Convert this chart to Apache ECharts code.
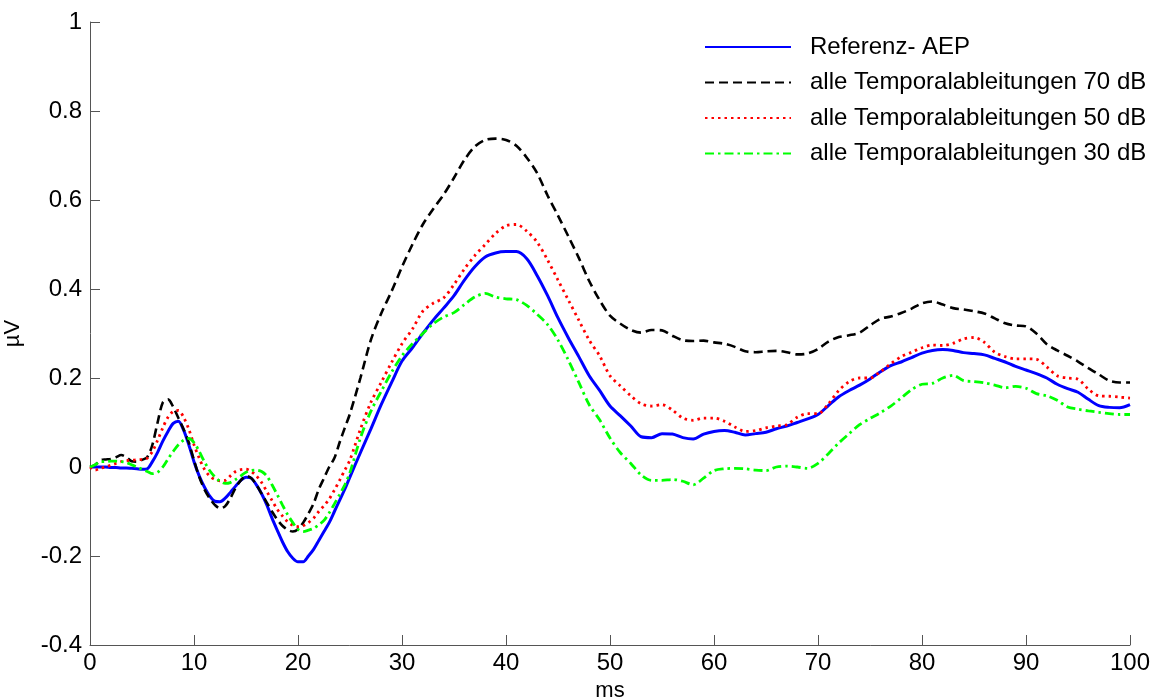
<!DOCTYPE html>
<html>
<head>
<meta charset="utf-8">
<script src="https://cdn.jsdelivr.net/npm/echarts@6/dist/echarts.min.js"></script>
<style>
html,body{margin:0;padding:0;background:#fff;}
#chart{width:1158px;height:698px;}
</style>
</head>
<body>
<div id="chart"></div>
<script>
// time in ms
var timeMs = [
  0,0.5,1,1.5,2,2.5,3,3.5,4,4.5,
  5,5.5,6,6.5,7,7.5,8,8.5,9,9.5,
  10,10.5,11,11.5,12,12.5,13,13.5,14,14.5,
  15,15.5,16,16.5,17,17.5,18,18.5,19,19.5,
  20,20.5,21,21.5,22,22.5,23,23.5,24,24.5,
  25,26,27,28,29,30,31,32,33,34,
  35,36,37,38,39,40,41,42,43,44,
  45,46,47,48,49,50,51,52,53,54,
  55,56,57,58,59,60,61,62,63,64,
  65,66,67,68,69,70,71,72,73,74,
  75,76,77,78,79,80,81,82,83,84,
  85,86,87,88,89,90,91,92,93,94,
  95,96,97,98,99,100
];

var seriesNames = [
  'Referenz- AEP',
  'alle Temporalableitungen 70 dB',
  'alle Temporalableitungen 50 dB',
  'alle Temporalableitungen 30 dB'
];

var refAEP = [
  0,0,0,0,-0.001,-0.001,-0.002,-0.002,-0.003,-0.004,
  -0.005,-0.004,0.012,0.033,0.058,0.08,0.098,0.103,0.083,0.05,
  0.012,-0.02,-0.045,-0.065,-0.077,-0.078,-0.07,-0.057,-0.043,-0.03,
  -0.023,-0.025,-0.04,-0.06,-0.085,-0.115,-0.142,-0.168,-0.19,-0.205,
  -0.213,-0.213,-0.2,-0.185,-0.165,-0.145,-0.125,-0.1,-0.075,-0.05,
  -0.022,0.032,0.085,0.14,0.19,0.238,0.268,0.3,0.33,0.357,
  0.385,0.42,0.45,0.472,0.481,0.484,0.484,0.468,0.43,0.385,
  0.335,0.29,0.248,0.205,0.172,0.137,0.115,0.092,0.068,0.066,
  0.075,0.074,0.066,0.063,0.074,0.08,0.082,0.078,0.072,0.075,
  0.078,0.086,0.092,0.1,0.108,0.118,0.138,0.158,0.172,0.184,
  0.198,0.214,0.228,0.236,0.246,0.256,0.262,0.264,0.262,0.257,
  0.255,0.252,0.244,0.236,0.226,0.218,0.21,0.2,0.186,0.176,
  0.168,0.152,0.138,0.134,0.133,0.14
];

var temporal70 = [
  0,0.005,0.015,0.017,0.018,0.022,0.027,0.022,0.013,0.012,
  0.016,0.022,0.05,0.1,0.145,0.152,0.135,0.11,0.085,0.055,
  0.015,-0.022,-0.05,-0.07,-0.085,-0.093,-0.088,-0.07,-0.047,-0.03,
  -0.02,-0.025,-0.04,-0.06,-0.08,-0.1,-0.118,-0.132,-0.141,-0.145,
  -0.14,-0.125,-0.105,-0.082,-0.05,-0.025,0.0,0.02,0.055,0.088,
  0.12,0.2,0.285,0.345,0.395,0.45,0.5,0.545,0.58,0.612,
  0.65,0.69,0.72,0.735,0.738,0.735,0.722,0.695,0.66,0.61,
  0.565,0.518,0.47,0.418,0.375,0.34,0.322,0.308,0.302,0.308,
  0.307,0.295,0.285,0.283,0.284,0.28,0.277,0.27,0.26,0.258,
  0.26,0.261,0.258,0.253,0.255,0.265,0.282,0.292,0.296,0.302,
  0.318,0.333,0.338,0.346,0.356,0.368,0.372,0.365,0.357,0.354,
  0.35,0.345,0.334,0.323,0.318,0.316,0.3,0.276,0.262,0.25,
  0.237,0.222,0.208,0.194,0.19,0.19
];

var temporal50 = [
  0,-0.007,-0.003,0,0.004,0.008,0.012,0.014,0.015,0.016,
  0.017,0.02,0.035,0.06,0.088,0.112,0.125,0.127,0.112,0.085,
  0.05,0.02,-0.005,-0.02,-0.028,-0.031,-0.03,-0.02,-0.01,-0.006,
  -0.005,-0.01,-0.02,-0.035,-0.055,-0.075,-0.095,-0.11,-0.123,-0.131,
  -0.134,-0.132,-0.125,-0.115,-0.1,-0.087,-0.072,-0.052,-0.03,-0.007,
  0.016,0.085,0.145,0.19,0.235,0.277,0.31,0.35,0.368,0.38,
  0.41,0.445,0.475,0.5,0.525,0.542,0.545,0.53,0.505,0.465,
  0.42,0.375,0.33,0.285,0.25,0.205,0.182,0.16,0.142,0.137,
  0.14,0.128,0.11,0.105,0.11,0.11,0.103,0.09,0.08,0.082,
  0.088,0.092,0.095,0.112,0.12,0.12,0.142,0.172,0.192,0.2,
  0.2,0.214,0.232,0.248,0.258,0.268,0.274,0.273,0.278,0.288,
  0.291,0.28,0.258,0.248,0.243,0.243,0.242,0.225,0.205,0.2,
  0.197,0.175,0.16,0.159,0.157,0.155
];

var temporal30 = [
  0,0.005,0.012,0.012,0.013,0.013,0.012,0.01,0.005,0,
  -0.005,-0.01,-0.015,-0.012,0,0.018,0.035,0.05,0.06,0.064,
  0.055,0.035,0.012,-0.008,-0.022,-0.032,-0.037,-0.035,-0.028,-0.02,
  -0.012,-0.008,-0.007,-0.01,-0.02,-0.04,-0.062,-0.085,-0.107,-0.125,
  -0.14,-0.145,-0.142,-0.138,-0.13,-0.12,-0.103,-0.083,-0.062,-0.04,
  -0.012,0.065,0.125,0.17,0.213,0.25,0.277,0.3,0.322,0.337,
  0.347,0.365,0.382,0.39,0.382,0.378,0.376,0.363,0.343,0.32,
  0.285,0.24,0.19,0.14,0.106,0.065,0.032,0.008,-0.018,-0.03,
  -0.03,-0.028,-0.032,-0.04,-0.025,-0.008,-0.004,-0.003,-0.004,-0.007,
  -0.008,0,0.002,0,-0.003,0.008,0.03,0.054,0.075,0.095,
  0.109,0.122,0.137,0.155,0.174,0.186,0.188,0.2,0.206,0.194,
  0.192,0.189,0.184,0.178,0.181,0.177,0.165,0.16,0.15,0.135,
  0.13,0.126,0.123,0.12,0.118,0.118
];

function pairs(vals){
  var out = [];
  for (var i = 0; i < timeMs.length; i++) out.push([timeMs[i], vals[i]]);
  return out;
}

var FONT = "'Liberation Sans', Arial, sans-serif";
var chart = echarts.init(document.getElementById('chart'), null, {renderer:'canvas'});

var axisCol = '#555';
var option = {
  animation: false,
  backgroundColor: '#fff',
  grid: {left: 90, right: 28, top: 22, bottom: 53, containLabel: false, outerBoundsMode: 'none'},
  legend: {
    orient: 'vertical',
    left: 699,
    top: 30,
    itemWidth: 86,
    itemHeight: 14,
    itemGap: 11.5,
    itemStyle: {opacity: 0},
    textStyle: {fontFamily: FONT, fontSize: 24, color: '#000', lineHeight: 24, padding: [0,0,0,14]},
    data: seriesNames
  },
  xAxis: {
    type: 'value',
    min: 0, max: 100, interval: 10,
    name: 'ms',
    nameLocation: 'middle',
    nameGap: 33,
    nameTextStyle: {fontFamily: FONT, fontSize: 22, color: '#000'},
    axisLine: {show: true, onZero: false, lineStyle: {color: axisCol, width: 1}},
    axisTick: {show: true, inside: true, length: 10, lineStyle: {color: axisCol}},
    axisLabel: {fontFamily: FONT, fontSize: 24, color: '#000', margin: 6},
    splitLine: {show: false}
  },
  yAxis: {
    type: 'value',
    min: -0.4, max: 1, interval: 0.2,
    name: 'µV',
    nameLocation: 'middle',
    nameGap: 66,
    nameTextStyle: {fontFamily: FONT, fontSize: 22, color: '#000'},
    axisLine: {show: true, onZero: false, lineStyle: {color: axisCol, width: 1}},
    axisTick: {show: true, inside: true, length: 10, lineStyle: {color: axisCol}},
    axisLabel: {fontFamily: FONT, fontSize: 24, color: '#000', margin: 8,
      formatter: function(v){ return String(Math.round(v*10)/10); }},
    splitLine: {show: false}
  },
  series: [
    {name: seriesNames[0], type: 'line', data: pairs(refAEP), symbol: 'none', smooth: 0.3,
     lineStyle: {color: '#0000ff', width: 3, type: 'solid'}, itemStyle: {color: '#0000ff'}},
    {name: seriesNames[1], type: 'line', data: pairs(temporal70), symbol: 'none', smooth: 0.3,
     lineStyle: {color: '#000000', width: 2.6, type: [9, 5], cap: 'butt'}, itemStyle: {color: '#000000'}},
    {name: seriesNames[2], type: 'line', data: pairs(temporal50), symbol: 'none', smooth: 0.3,
     lineStyle: {color: '#ff0000', width: 2.8, type: [2.5, 4], cap: 'butt'}, itemStyle: {color: '#ff0000'}},
    {name: seriesNames[3], type: 'line', data: pairs(temporal30), symbol: 'none', smooth: 0.3,
     lineStyle: {color: '#00ff00', width: 2.8, type: [9, 4, 2.5, 4], cap: 'butt'}, itemStyle: {color: '#00ff00'}}
  ]
};
chart.setOption(option);
</script>
</body>
</html>
